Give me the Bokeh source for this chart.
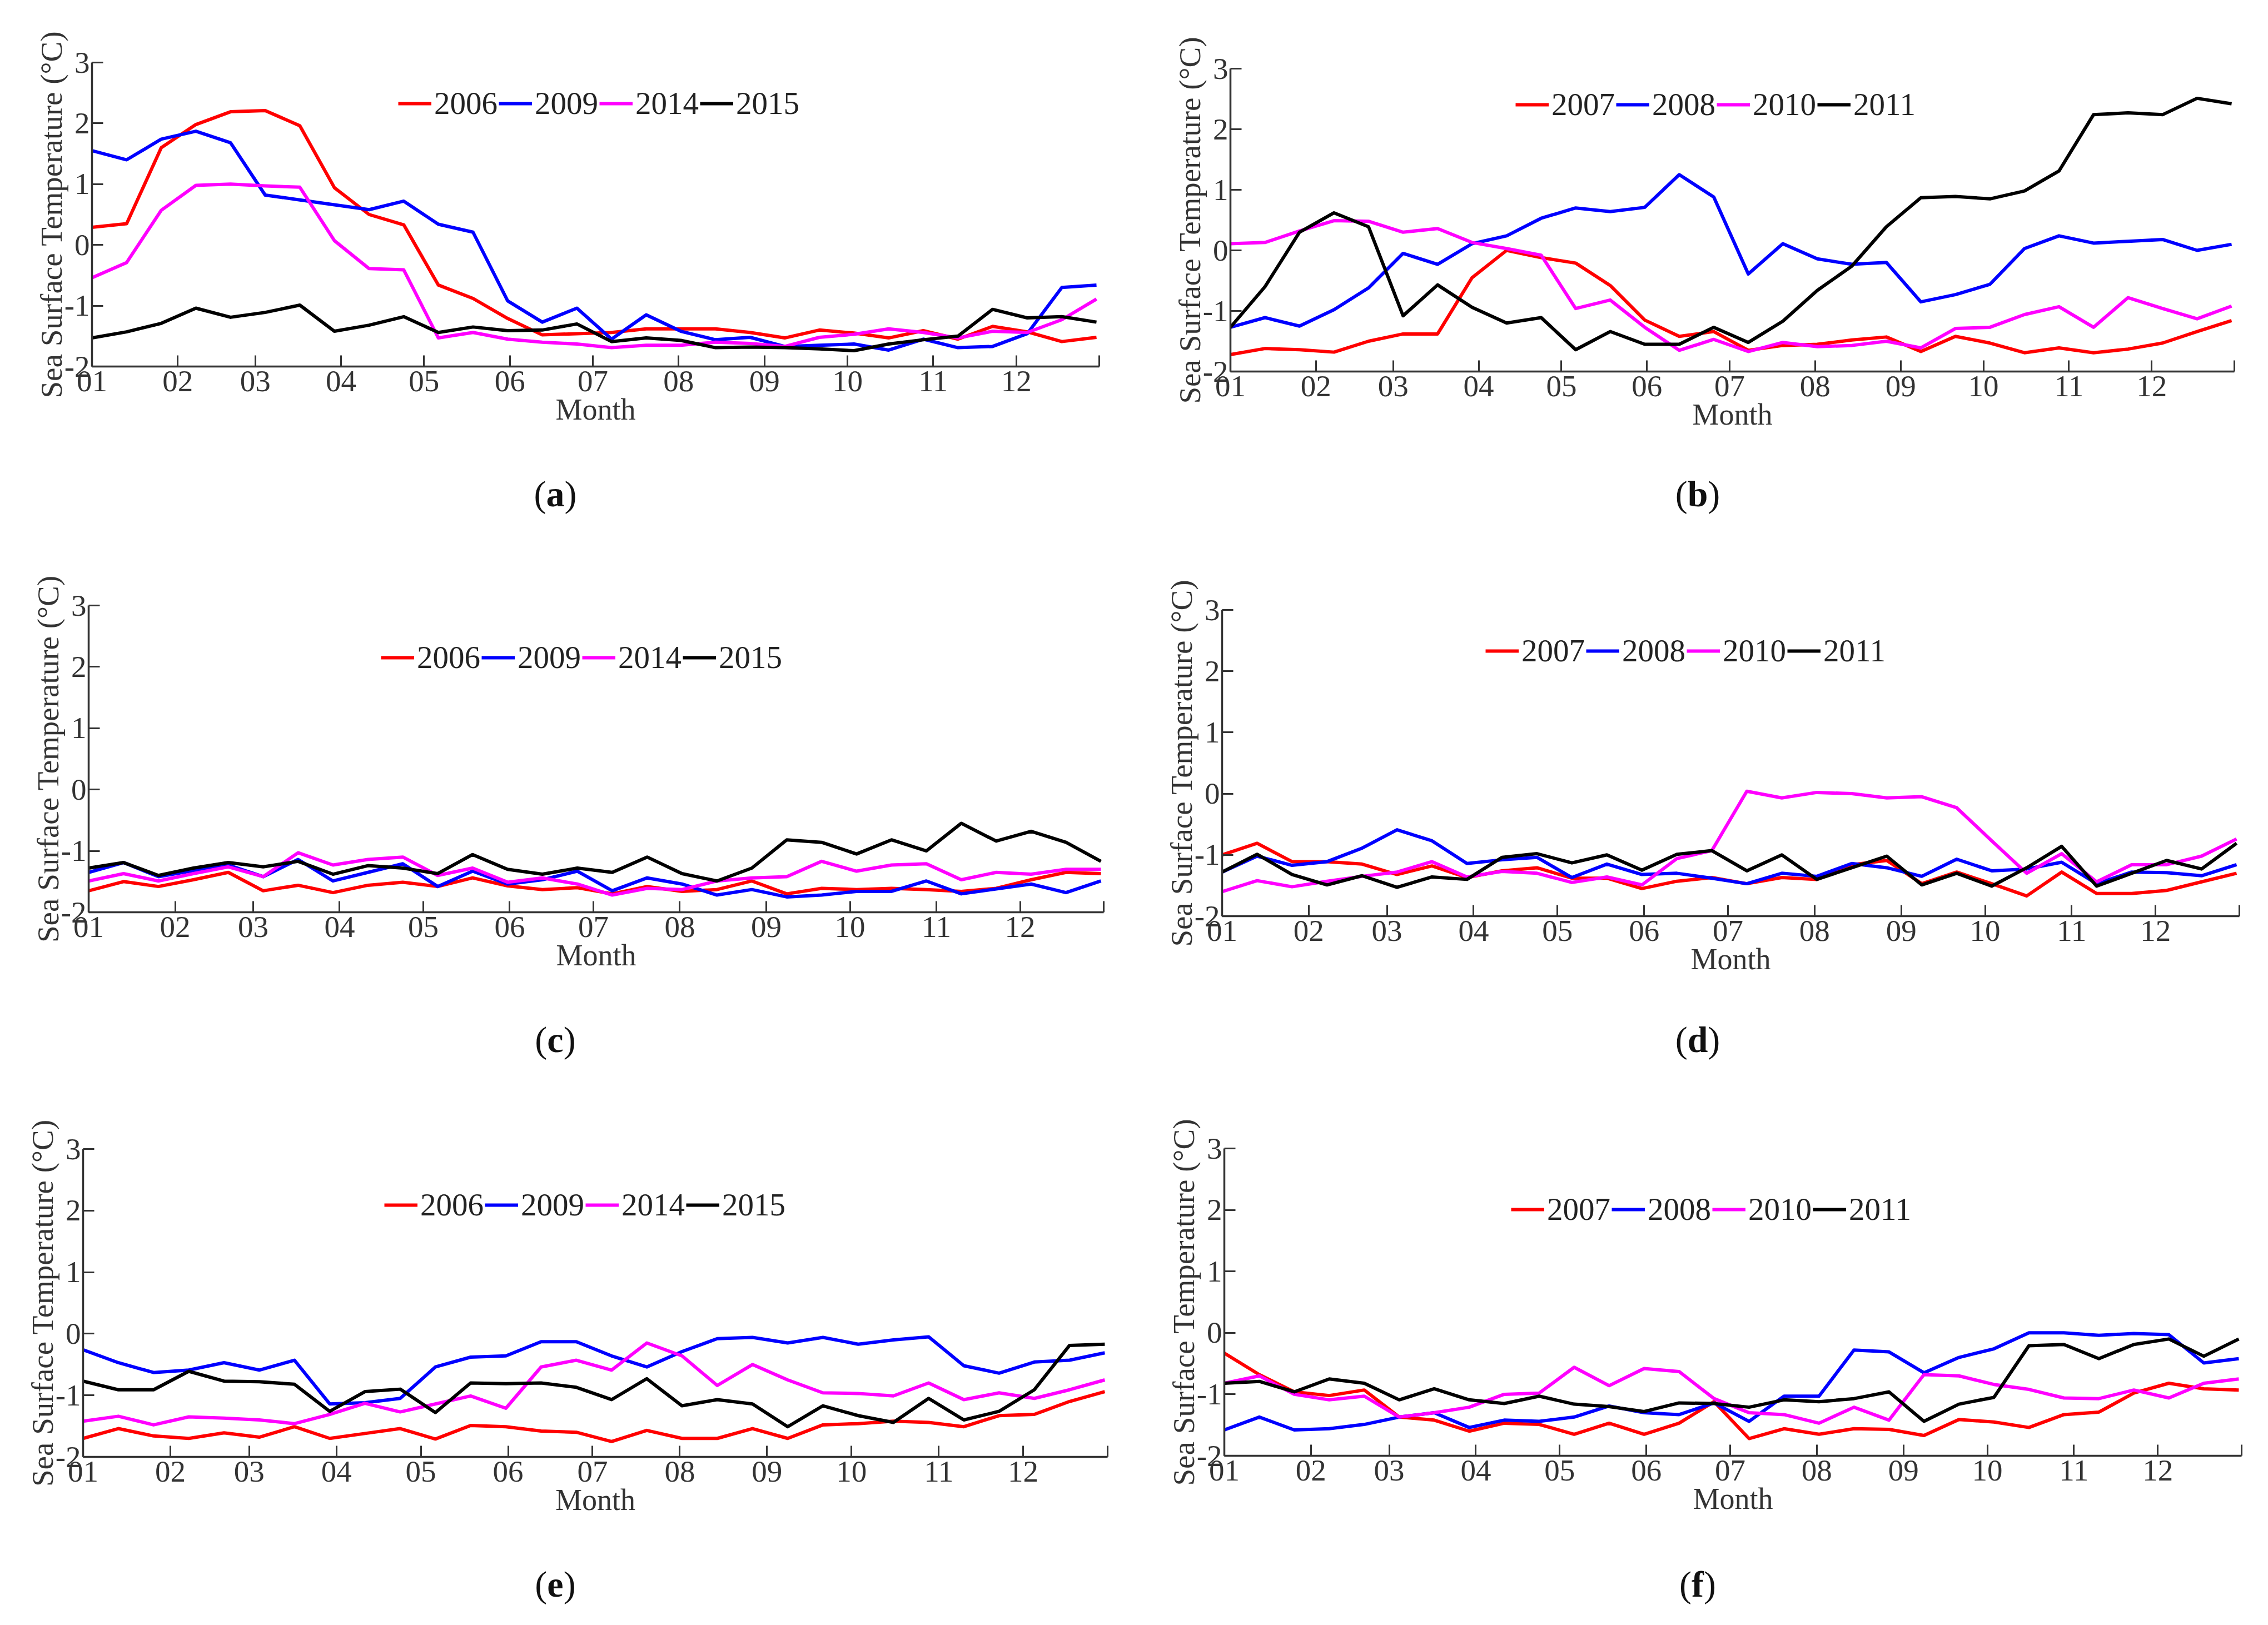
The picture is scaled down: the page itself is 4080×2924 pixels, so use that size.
from bokeh.plotting import figure
from bokeh.models import FixedTicker, Legend, LegendItem, Range1d, Div
from bokeh.layouts import column, row
from bokeh.embed import file_html
from bokeh.resources import INLINE

# ---- data: 30 composites through the year (x = day of year) ----
DAYS = [round(1 + i * 363 / 29, 2) for i in range(30)]
MONTH_TICKS = [1, 32, 60, 91, 121, 152, 182, 213, 244, 274, 305, 335, 365]
MONTH_LABELS = ["01", "02", "03", "04", "05", "06", "07", "08", "09", "10", "11", "12", ""]
Y_TICKS = [-2, -1, 0, 1, 2, 3]
Y_LABELS = ["-2", "-1", "0", "1", "2", "3"]

YEARS_A = ["2006", "2009", "2014", "2015"]
YEARS_B = ["2007", "2008", "2010", "2011"]

A_2006 = [0.29, 0.35, 1.60, 1.98, 2.19, 2.21, 1.96, 0.94, 0.50, 0.33, -0.66, -0.88, -1.21, -1.48, -1.46,
          -1.44, -1.38, -1.38, -1.38, -1.44, -1.53, -1.40, -1.45, -1.53, -1.41, -1.55, -1.34, -1.43, -1.59, -1.52]
A_2009 = [1.55, 1.40, 1.74, 1.87, 1.68, 0.82, 0.74, 0.66, 0.58, 0.72, 0.34, 0.21, -0.92, -1.27, -1.04,
          -1.55, -1.15, -1.42, -1.56, -1.52, -1.67, -1.65, -1.63, -1.73, -1.55, -1.69, -1.67, -1.46, -0.70, -0.66]
A_2014 = [-0.54, -0.29, 0.57, 0.98, 1.00, 0.97, 0.95, 0.07, -0.39, -0.41, -1.53, -1.44, -1.55, -1.60, -1.63,
          -1.69, -1.65, -1.65, -1.60, -1.62, -1.67, -1.52, -1.47, -1.38, -1.44, -1.53, -1.42, -1.44, -1.23, -0.89]
A_2015 = [-1.53, -1.43, -1.29, -1.04, -1.19, -1.11, -0.99, -1.42, -1.32, -1.18, -1.44, -1.35, -1.41, -1.40, -1.30,
          -1.59, -1.53, -1.57, -1.69, -1.68, -1.69, -1.71, -1.74, -1.63, -1.56, -1.50, -1.06, -1.20, -1.18, -1.27]

B_2007 = [-1.72, -1.62, -1.64, -1.68, -1.50, -1.38, -1.38, -0.45, 0.00, -0.12, -0.21, -0.58, -1.15, -1.42, -1.34,
          -1.65, -1.57, -1.55, -1.48, -1.43, -1.67, -1.42, -1.53, -1.69, -1.61, -1.69, -1.63, -1.53, -1.34, -1.16]
B_2008 = [-1.27, -1.11, -1.25, -0.98, -0.62, -0.05, -0.23, 0.11, 0.24, 0.53, 0.70, 0.64, 0.71, 1.25, 0.88,
          -0.39, 0.11, -0.14, -0.23, -0.20, -0.85, -0.73, -0.56, 0.03, 0.24, 0.12, 0.15, 0.18, 0.00, 0.10]
B_2010 = [0.11, 0.13, 0.32, 0.49, 0.48, 0.30, 0.36, 0.13, 0.03, -0.08, -0.96, -0.82, -1.27, -1.65, -1.47,
          -1.67, -1.52, -1.59, -1.57, -1.50, -1.61, -1.29, -1.27, -1.06, -0.93, -1.27, -0.78, -0.96, -1.13, -0.92]
B_2011 = [-1.27, -0.60, 0.30, 0.62, 0.39, -1.08, -0.57, -0.94, -1.20, -1.11, -1.64, -1.34, -1.55, -1.55, -1.27,
          -1.52, -1.17, -0.66, -0.26, 0.39, 0.87, 0.89, 0.85, 0.98, 1.31, 2.24, 2.27, 2.24, 2.51, 2.42]

C_2006 = [-1.65, -1.50, -1.58, -1.47, -1.35, -1.65, -1.56, -1.68, -1.56, -1.51, -1.58, -1.44, -1.57, -1.63, -1.60,
          -1.70, -1.58, -1.66, -1.63, -1.49, -1.70, -1.61, -1.63, -1.61, -1.63, -1.66, -1.61, -1.47, -1.35, -1.37]
C_2009 = [-1.35, -1.19, -1.42, -1.32, -1.23, -1.42, -1.14, -1.49, -1.35, -1.21, -1.58, -1.33, -1.54, -1.47, -1.33,
          -1.65, -1.44, -1.54, -1.72, -1.63, -1.75, -1.72, -1.66, -1.66, -1.49, -1.70, -1.62, -1.54, -1.68, -1.49]
C_2014 = [-1.49, -1.37, -1.49, -1.37, -1.26, -1.42, -1.03, -1.23, -1.14, -1.10, -1.40, -1.28, -1.51, -1.44, -1.54,
          -1.72, -1.61, -1.63, -1.49, -1.44, -1.42, -1.17, -1.33, -1.23, -1.21, -1.47, -1.35, -1.38, -1.30, -1.30]
C_2015 = [-1.28, -1.19, -1.40, -1.28, -1.19, -1.26, -1.17, -1.38, -1.24, -1.28, -1.37, -1.06, -1.30, -1.38, -1.28,
          -1.35, -1.10, -1.37, -1.49, -1.28, -0.82, -0.86, -1.05, -0.82, -1.00, -0.55, -0.84, -0.68, -0.86, -1.17]

D_2007 = [-1.00, -0.81, -1.11, -1.11, -1.15, -1.32, -1.18, -1.37, -1.26, -1.21, -1.38, -1.38, -1.55, -1.43, -1.37,
          -1.47, -1.37, -1.40, -1.16, -1.09, -1.47, -1.28, -1.47, -1.67, -1.28, -1.63, -1.63, -1.58, -1.44, -1.30]
D_2008 = [-1.28, -1.02, -1.17, -1.11, -0.89, -0.59, -0.77, -1.14, -1.08, -1.04, -1.37, -1.15, -1.32, -1.30, -1.38,
          -1.47, -1.30, -1.35, -1.14, -1.21, -1.35, -1.07, -1.26, -1.23, -1.12, -1.47, -1.28, -1.29, -1.34, -1.16]
D_2010 = [-1.60, -1.42, -1.52, -1.43, -1.35, -1.28, -1.11, -1.36, -1.27, -1.30, -1.45, -1.36, -1.49, -1.06, -0.93,
          0.04, -0.07, 0.02, 0.00, -0.07, -0.05, -0.23, -0.77, -1.30, -0.98, -1.44, -1.16, -1.16, -1.02, -0.74]
D_2011 = [-1.28, -0.99, -1.32, -1.49, -1.34, -1.53, -1.36, -1.40, -1.04, -0.98, -1.13, -1.00, -1.25, -0.99, -0.93,
          -1.26, -1.00, -1.40, -1.21, -1.02, -1.49, -1.30, -1.51, -1.21, -0.86, -1.51, -1.30, -1.09, -1.23, -0.81]

E_2006 = [-1.70, -1.54, -1.66, -1.70, -1.61, -1.68, -1.51, -1.70, -1.62, -1.54, -1.71, -1.49, -1.51, -1.58, -1.60,
          -1.75, -1.57, -1.70, -1.70, -1.54, -1.70, -1.48, -1.46, -1.42, -1.44, -1.51, -1.33, -1.31, -1.10, -0.94]
E_2009 = [-0.26, -0.47, -0.63, -0.59, -0.47, -0.59, -0.43, -1.14, -1.12, -1.05, -0.54, -0.38, -0.36, -0.13, -0.13,
          -0.36, -0.54, -0.29, -0.08, -0.06, -0.15, -0.06, -0.17, -0.10, -0.05, -0.52, -0.64, -0.46, -0.43, -0.31]
E_2014 = [-1.42, -1.34, -1.48, -1.35, -1.37, -1.40, -1.46, -1.31, -1.13, -1.27, -1.14, -1.01, -1.21, -0.54, -0.43,
          -0.59, -0.15, -0.36, -0.84, -0.50, -0.75, -0.96, -0.97, -1.01, -0.80, -1.07, -0.96, -1.05, -0.91, -0.75]
E_2015 = [-0.77, -0.91, -0.91, -0.61, -0.77, -0.78, -0.82, -1.26, -0.94, -0.90, -1.28, -0.80, -0.81, -0.80, -0.87,
          -1.07, -0.73, -1.17, -1.07, -1.14, -1.51, -1.17, -1.33, -1.44, -1.05, -1.40, -1.26, -0.91, -0.19, -0.17]

F_2007 = [-0.33, -0.68, -0.96, -1.02, -0.93, -1.37, -1.42, -1.60, -1.47, -1.49, -1.65, -1.47, -1.65, -1.47, -1.12,
          -1.72, -1.56, -1.65, -1.56, -1.57, -1.67, -1.41, -1.45, -1.54, -1.33, -1.29, -0.98, -0.82, -0.91, -0.93]
F_2008 = [-1.58, -1.37, -1.58, -1.56, -1.49, -1.37, -1.30, -1.54, -1.42, -1.44, -1.37, -1.19, -1.30, -1.33, -1.14,
          -1.44, -1.03, -1.03, -0.28, -0.31, -0.65, -0.40, -0.26, 0.00, 0.00, -0.04, -0.01, -0.03, -0.49, -0.42]
F_2010 = [-0.82, -0.70, -1.00, -1.09, -1.03, -1.37, -1.30, -1.21, -1.00, -0.98, -0.56, -0.86, -0.58, -0.63, -1.07,
          -1.30, -1.33, -1.47, -1.21, -1.42, -0.68, -0.70, -0.84, -0.92, -1.06, -1.07, -0.93, -1.06, -0.82, -0.75]
F_2011 = [-0.82, -0.79, -0.96, -0.75, -0.82, -1.09, -0.91, -1.09, -1.15, -1.03, -1.16, -1.20, -1.28, -1.14, -1.15,
          -1.21, -1.09, -1.12, -1.07, -0.96, -1.44, -1.16, -1.05, -0.21, -0.19, -0.42, -0.19, -0.10, -0.38, -0.10]

COLORS = ["#ff0000", "#0000ff", "#ff00ff", "#000000"]
FONT = "Liberation Serif"
TXT = "#333333"

FIG_W = 2032
FIG_H = 810
# (row top on page, label strip height, label centre y on page)
ROWS = [(8, 160, 897), (978, 160, 1879), (1948, 156, 2859)]

# panel geometry (page px): column x0, row index, frame box, legend offset from frame (left, top), label centre x
PANELS = [
    ("a", YEARS_A, [A_2006, A_2009, A_2014, A_2015], 8, 0, (173, 120, 1985, 667), (551, 76), 1007),
    ("b", YEARS_B, [B_2007, B_2008, B_2010, B_2011], 2040, 0, (2221, 131, 4027, 676), (513, 67), 3062),
    ("c", YEARS_A, [C_2006, C_2009, C_2014, C_2015], 8, 1, (167, 1097, 1993, 1649), (526, 96), 1007),
    ("d", YEARS_B, [D_2007, D_2008, D_2010, D_2011], 2040, 1, (2206, 1105, 4036, 1656), (474, 76), 3062),
    ("e", YEARS_A, [E_2006, E_2009, E_2014, E_2015], 8, 2, (157, 2075, 2000, 2629), (542, 103), 1007),
    ("f", YEARS_B, [F_2007, F_2008, F_2010, F_2011], 2040, 2, (2210, 2074, 4040, 2627), (516, 112), 3062),
]


def make_panel(letter, years, series, fx, ri, frame, leg_off, lab_x):
    fy = ROWS[ri][0]
    x0, y0, x1, y1 = frame
    p = figure(width=FIG_W, height=FIG_H, x_range=Range1d(1, 365), y_range=Range1d(-2, 3),
               output_backend="svg", toolbar_location=None,
               min_border_left=x0 - fx, min_border_right=fx + FIG_W - x1,
               min_border_top=y0 - fy, min_border_bottom=fy + FIG_H - y1)
    p.grid.visible = False
    p.outline_line_color = None

    for ax in (p.xaxis[0], p.yaxis[0]):
        ax.axis_line_width = 3.5
        ax.axis_line_color = "#333333"
        ax.major_tick_line_width = 3
        ax.major_tick_line_color = "#333333"
        ax.major_tick_in = 20
        ax.major_tick_out = 0
        ax.minor_tick_line_color = None
        ax.major_label_text_font = FONT
        ax.major_label_text_font_size = "55px"
        ax.major_label_text_color = TXT
        ax.axis_label_text_font = FONT
        ax.axis_label_text_font_style = "normal"
        ax.axis_label_text_color = TXT

    p.xaxis.ticker = FixedTicker(ticks=MONTH_TICKS)
    p.xaxis.major_label_overrides = {t: l for t, l in zip(MONTH_TICKS, MONTH_LABELS)}
    p.xaxis.major_label_standoff = 8
    p.xaxis.axis_label = "Month"
    p.xaxis.axis_label_text_font_size = "54px"
    p.xaxis.axis_label_standoff = 0

    p.yaxis.ticker = FixedTicker(ticks=Y_TICKS)
    p.yaxis.major_label_overrides = {t: l for t, l in zip(Y_TICKS, Y_LABELS)}
    p.yaxis.major_label_standoff = 4
    p.yaxis.axis_label = "Sea Surface Temperature (°C)"
    p.yaxis.axis_label_text_font_size = "55px"
    p.yaxis.axis_label_standoff = -10

    items = []
    for yr, vals, col in zip(years, series, COLORS):
        r = p.line(DAYS, vals, line_color=col, line_width=6, line_join="round")
        items.append(LegendItem(label=yr, renderers=[r]))

    frame_h = y1 - y0
    leg_h = 60
    legend = Legend(items=items, orientation="horizontal",
                    location=(leg_off[0], frame_h - leg_off[1] - leg_h // 2),
                    background_fill_alpha=0, border_line_color=None,
                    padding=0, spacing=2, margin=0,
                    glyph_width=60, glyph_height=leg_h, label_height=leg_h,
                    label_standoff=5, label_text_font=FONT,
                    label_text_font_size="57px", label_text_color="#222222")
    p.add_layout(legend)

    # strip under the panel holding the "(x)" sub-figure letter
    strip_h = ROWS[ri][1]
    cy = ROWS[ri][2] - (fy + FIG_H)
    cx = lab_x - fx
    html = (
        f'<div style="position:relative;width:{FIG_W}px;height:{strip_h}px;'
        f"font-family:'Liberation Serif';font-size:66px;color:#111111;\">"
        f'<span style="position:absolute;left:{cx}px;top:{cy}px;'
        f'transform:translate(-50%,-50%);line-height:1;white-space:nowrap;">'
        f'(<b>{letter}</b>)</span></div>'
    )
    d = Div(text=html, width=FIG_W, height=strip_h, margin=0)
    return column(p, d, spacing=0)


cells = [make_panel(*spec) for spec in PANELS]
layout = column(row(cells[0], cells[1], spacing=0),
                row(cells[2], cells[3], spacing=0),
                row(cells[4], cells[5], spacing=0), spacing=0)

open("out.html", "w").write(file_html(layout, INLINE))
